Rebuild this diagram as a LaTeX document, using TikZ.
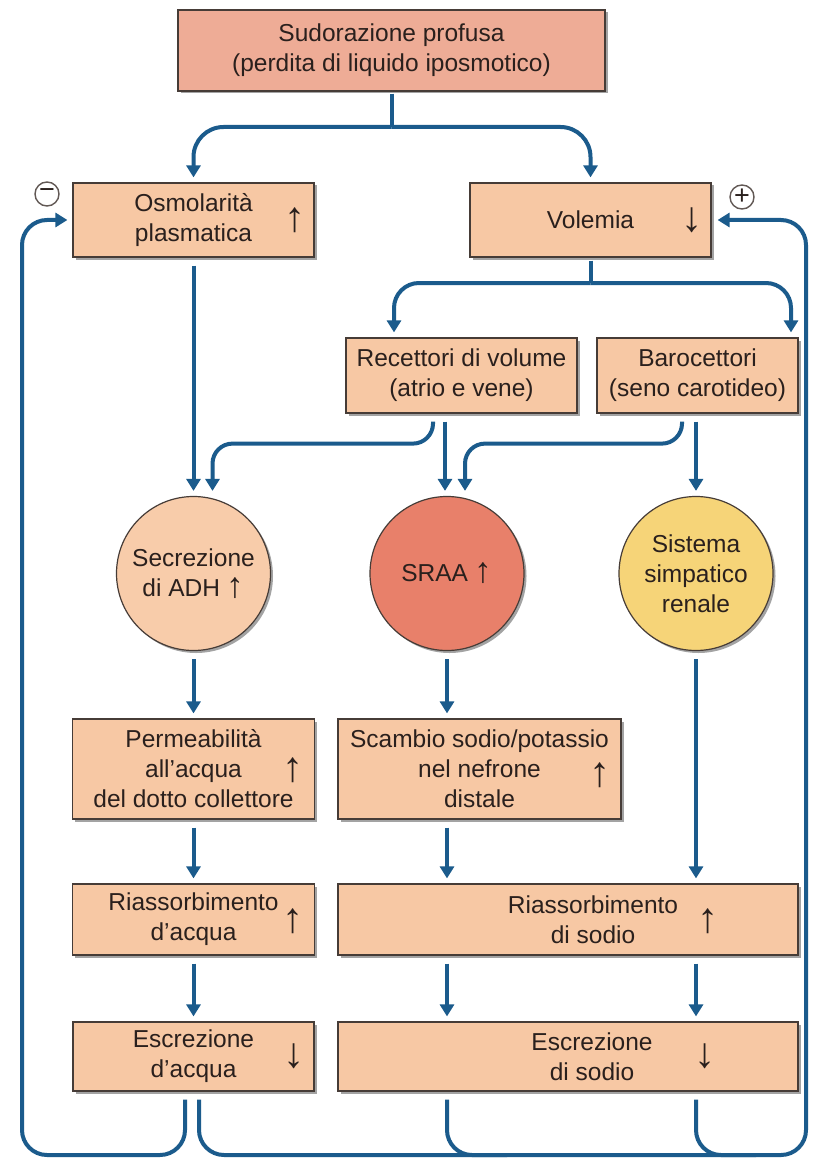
\documentclass[tikz,border=0pt]{standalone}
\usepackage{fontspec}
\usepackage{graphicx}
\setmainfont{Liberation Sans}
\usetikzlibrary{calc,arrows.meta,shadows}
\usepackage{xcolor}
\definecolor{flowblue}{HTML}{1B5B8C}
\definecolor{boxpeach}{HTML}{F7C8A4}
\definecolor{toppink}{HTML}{EEAC96}
\definecolor{adhpeach}{HTML}{F8CCAA}
\definecolor{raasred}{HTML}{E8806A}
\definecolor{nerveyellow}{HTML}{F6D478}
\definecolor{edgebrown}{HTML}{463C37}
\definecolor{inkdark}{HTML}{2A201D}

\newcommand{\uparr}{\resizebox*{!}{25pt}{\bfseries ↑}}
\newcommand{\downarr}{\resizebox*{!}{25pt}{\bfseries ↓}}
\newcommand{\upinline}{\raisebox{-1pt}{\resizebox*{!}{21pt}{\bfseries ↑}}}

\tikzset{
  cell/.style={draw=edgebrown, line width=1.2pt, fill=boxpeach, text=inkdark,
    align=center, inner sep=0pt, font=\fontsize{24.5}{30}\selectfont,
    drop shadow={shadow xshift=2.5pt, shadow yshift=-2.5pt, fill=black!60, opacity=0.6}},
  disc/.style={cell, circle, minimum size=154pt},
  caption/.style={text=inkdark, align=center, inner sep=0pt, font=\fontsize{24.5}{30}\selectfont},
  trend/.style={text=inkdark, inner sep=0pt, font=\fontsize{24.5}{30}\selectfont},
  sign/.style={circle, draw=edgebrown!85, line width=1.4pt, minimum size=24pt, inner sep=0pt,
    text=inkdark, font=\fontsize{27}{27}\selectfont},
  flow/.style={draw=flowblue, line width=4pt, -{Triangle[length=12pt,width=14pt]},
    shorten >=5pt, shorten <=8pt, rounded corners=25pt},
  feed/.style={draw=flowblue, line width=4pt, shorten <=8pt, rounded corners=25pt},
}

\begin{document}
\begin{tikzpicture}[x=1pt, y=-1pt]

  % Canvas
  \fill[white] (0,0) rectangle (813,1158);
  \useasboundingbox (0,0) rectangle (813,1158);

  % ==================== 1. STIMULUS ====================
  \node[cell, fill=toppink, minimum width=427pt, minimum height=81pt] (sweat) at (391.5,50.5)
    {Sudorazione profusa\\(perdita di liquido iposmotico)};

  % ==================== 2. PRIMARY CHANGES ====================
  \node[cell, minimum width=241pt, minimum height=74pt] (osmo) at (193.5,220) {Osmolarità\\plasmatica};
  \node[trend] (osmoup) at (295,220) {\uparr};
  \node[cell, minimum width=241pt, minimum height=74pt] (volem) at (590.5,220) {Volemia};
  \node[trend] (volemdown) at (692,220) {\downarr};
  \node[sign] (minus) at (47,194) {−};
  \node[sign] (plus) at (742,197) {+};

  % ==================== 3. SENSORS ====================
  \node[cell, minimum width=231pt, minimum height=75pt] (recep) at (461.5,375.5) {Recettori di volume\\(atrio e vene)};
  \node[cell, minimum width=201pt, minimum height=75pt] (baro) at (697.5,375.5) {Barocettori\\(seno carotideo)};

  % ==================== 4. EFFECTOR SYSTEMS ====================
  \node[disc, fill=adhpeach] (adh) at (193.5,573.5) {Secrezione\\di ADH \upinline};
  \node[disc, fill=raasred] (sraa) at (447,573.5) {SRAA \upinline};
  \node[disc, fill=nerveyellow] (simp) at (696,573.5) {Sistema\\simpatico\\renale};

  % ==================== 5. RENAL RESPONSES ====================
  \node[cell, minimum width=242pt, minimum height=100pt] (perm) at (193.5,769) {Permeabilità\\all'acqua\\del dotto collettore};
  \node[trend] (permup) at (293,770) {\uparr};
  \node[cell, minimum width=283pt, minimum height=100pt] (swap) at (479.5,769) {Scambio sodio/potassio\\nel nefrone\\distale};
  \node[trend] (swapup) at (600,775) {\uparr};

  \node[cell, minimum width=242pt, minimum height=71pt] (reabsw) at (193.5,919.5) {Riassorbimento\\d'acqua};
  \node[trend] (reabswup) at (293,921) {\uparr};
  \node[cell, minimum width=460pt, minimum height=71pt] (reabsna) at (568,919.5) {};
  \node[caption] (reabsnatext) at (593,919.5) {Riassorbimento\\di sodio};
  \node[trend] (reabsnaup) at (708,921) {\uparr};

  \node[cell, minimum width=241pt, minimum height=69pt] (excw) at (193.5,1056.5) {Escrezione\\d'acqua};
  \node[trend] (excwdown) at (294,1056) {\downarr};
  \node[cell, minimum width=460pt, minimum height=69pt] (excna) at (568,1056.5) {};
  \node[caption] (excnatext) at (592,1056.5) {Escrezione\\di sodio};
  \node[trend] (excnadown) at (705,1056) {\downarr};

  % ==================== 6. CONNECTORS ====================
  \coordinate (fork1) at (391.5,127);
  \coordinate (fork2) at (590.5,283);
  \draw[feed, shorten <=2pt] (sweat.south) -- (fork1);
  \draw[flow, rounded corners=30pt, shorten <=0pt] (fork1) -| (osmo.north);
  \draw[flow, rounded corners=30pt, shorten <=0pt] (fork1) -| (volem.north);

  \draw[flow] (osmo.south) -- (adh.north);
  \draw[feed, shorten <=3pt] (volem.south) -- (fork2);
  \draw[flow, shorten <=0pt] (fork2) -| ([xshift=-67.5pt]recep.north);
  \draw[flow, shorten <=0pt] (fork2) -| ([xshift=93.5pt]baro.north);

  \draw[flow, rounded corners=20pt] ([xshift=-28.5pt]recep.south) -- ++(0,30) -| ([xshift=19pt]adh.north);
  \draw[flow] ([xshift=-16.5pt]recep.south) -- ([xshift=-2pt]sraa.north);
  \draw[flow, rounded corners=20pt] ([xshift=-15.5pt]baro.south) -- ++(0,30) -| ([xshift=18pt]sraa.north);
  \draw[flow] ([xshift=-1.5pt]baro.south) -- (simp.north);

  \draw[flow] (adh.south) -- (perm.north);
  \draw[flow] (sraa.south) -- (sraa.south |- swap.north);
  \draw[flow] (simp.south) -- (simp.south |- reabsna.north);
  \draw[flow] (perm.south) -- (reabsw.north);
  \draw[flow] (sraa.south |- swap.south) -- (sraa.south |- reabsna.north);
  \draw[flow] (reabsw.south) -- (excw.north);
  \draw[flow] (sraa.south |- reabsna.south) -- (sraa.south |- excna.north);
  \draw[flow] (simp.south |- reabsna.south) -- (simp.south |- excna.north);

  % Feedback loops
  \coordinate (loopL) at (22,1155);
  \coordinate (loopR) at (806,1155);
  \draw[flow] ([xshift=-8.5pt]excw.south) |- (loopL) |- (osmo.west);
  \draw[flow, shorten >=6pt] ([xshift=5.5pt]excw.south) |- (loopR) |- (volem.east);
  \draw[feed] (sraa.south |- excna.south) |- ([xshift=60pt]sraa.south |- loopR);
  \draw[feed] (simp.south |- excna.south) |- ([xshift=60pt]simp.south |- loopR);

\end{tikzpicture}
\end{document}
